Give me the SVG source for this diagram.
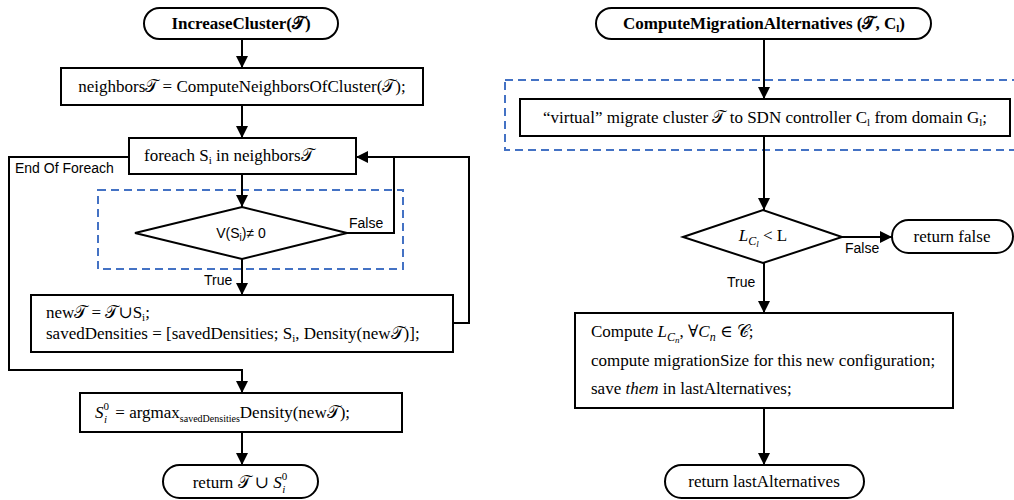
<svg xmlns="http://www.w3.org/2000/svg" width="1014" height="500" viewBox="0 0 1014 500">
<style>
.box{fill:#fff;stroke:#000;stroke-width:2}
.conn{fill:none;stroke:#000;stroke-width:2}
.arr{marker-end:url(#ah)}
.dash{fill:none;stroke:#4472C4;stroke-width:2;stroke-dasharray:8 5}
.t{font-family:"Liberation Serif","DejaVu Serif",serif;font-size:17px;fill:#000}
.b{font-weight:bold}
.s{font-family:"Liberation Sans","DejaVu Sans",sans-serif;font-size:14px;fill:#000}
.i{font-style:italic}
</style>
<defs>
<marker id="ah" markerUnits="userSpaceOnUse" markerWidth="12" markerHeight="12" refX="12" refY="6" orient="auto">
<path d="M0,0 L12,6 L0,12 z" fill="#000"/>
</marker>
</defs>
<rect width="1014" height="500" fill="#fff"/>
<g id="highlights">
<rect class="dash" x="98" y="190" width="305" height="79"/>
<rect class="dash" x="505" y="80" width="520" height="70"/>
</g>
<g id="connectors">
<path class="conn arr" d="M242,39 V68"/>
<path class="conn arr" d="M242,105 V138"/>
<path class="conn arr" d="M242,174 V207"/>
<path class="conn" d="M453,323 H469 V157 H394"/>
<path class="conn arr" d="M347,233 H394 V157 H356"/>
<path class="conn arr" d="M242,259 V295"/>
<path class="conn arr" d="M129,157 H9 V370 H242 V393"/>
<path class="conn arr" d="M242,432 V465"/>
<path class="conn arr" d="M764,39 V99"/>
<path class="conn arr" d="M764,136 V210"/>
<path class="conn arr" d="M842,237 H892"/>
<path class="conn arr" d="M764,263 V313"/>
<path class="conn arr" d="M764,408 V465"/>
<text class="s" x="15" y="173">End Of Foreach</text>
<text class="s" x="349" y="228">False</text>
<text class="s" x="204" y="285">True</text>
<text class="s" x="845" y="253">False</text>
<text class="s" x="727" y="287">True</text>
</g>
<g id="start-left">
<rect class="box" x="144" y="8" width="194" height="31" rx="15.5"/>
<text class="t b" x="241" y="29" text-anchor="middle">IncreaseCluster(𝒯)</text>
</g>
<g id="neighbors">
<rect class="box" x="61" y="68" width="362" height="37"/>
<text class="t" x="242" y="92" text-anchor="middle">neighbors𝒯 = ComputeNeighborsOfCluster(𝒯);</text>
</g>
<g id="foreach">
<rect class="box" x="129" y="138" width="227" height="36"/>
<text class="t" x="144" y="161">foreach S<tspan font-size="11" dy="3">i</tspan><tspan dy="-3"> in neighbors𝒯</tspan></text>
</g>
<g id="cond-left">
<polygon class="box" points="135,233 242,207 347,233 242,259"/>
<text class="s" x="241" y="238" text-anchor="middle" font-size="15">V(S<tspan font-size="10" dy="3">i</tspan><tspan dy="-3">)≠ 0</tspan></text>
</g>
<g id="update">
<rect class="box" x="31" y="295" width="422" height="57"/>
<text class="t" x="46" y="318">new𝒯 = 𝒯∪S<tspan font-size="11" dy="3">i</tspan><tspan dy="-3">;</tspan></text>
<text class="t" x="46" y="339">savedDensities = [savedDensities; S<tspan font-size="11" dy="3">i</tspan><tspan dy="-3">, Density(new𝒯)];</tspan></text>
</g>
<g id="argmax">
<rect class="box" x="80" y="393" width="322" height="39"/>
<text class="t" x="95" y="418"><tspan class="i">S</tspan><tspan font-size="11" dy="-8">0</tspan><tspan dx="-5" font-size="11" class="i" dy="13">i</tspan><tspan dx="4" dy="-5"> = argmax</tspan><tspan font-size="10" dy="4">savedDensities</tspan><tspan dy="-4">Density(new𝒯);</tspan></text>
</g>
<g id="end-left">
<rect class="box" x="163" y="465" width="155" height="33" rx="16.5"/>
<text class="t" x="240" y="488" text-anchor="middle">return 𝒯 ∪ <tspan class="i">S</tspan><tspan font-size="11" dy="-8">0</tspan><tspan dx="-5" font-size="11" class="i" dy="13">i</tspan></text>
</g>
<g id="start-right">
<rect class="box" x="596" y="8" width="335" height="31" rx="15.5"/>
<text class="t b" x="764" y="29" text-anchor="middle">ComputeMigrationAlternatives (𝒯, C<tspan font-size="11" dy="3">l</tspan><tspan dy="-3">)</tspan></text>
</g>
<g id="migrate">
<rect class="box" x="520" y="99" width="490" height="37"/>
<text class="t" x="765" y="123" text-anchor="middle">“virtual” migrate cluster 𝒯 to SDN controller C<tspan font-size="11" dy="3">l</tspan><tspan dy="-3"> from domain G</tspan><tspan font-size="11" dy="3">l</tspan><tspan dy="-3">;</tspan></text>
</g>
<g id="cond-right">
<polygon class="box" points="683,237 763,210 842,237 763,263"/>
<text class="t" x="763" y="241" text-anchor="middle"><tspan class="i">L</tspan><tspan class="i" font-size="12" dy="4">C</tspan><tspan class="i" font-size="9" dy="2">l</tspan><tspan dy="-6"> &lt; L</tspan></text>
</g>
<g id="return-false">
<rect class="box" x="892" y="220" width="121" height="33" rx="16.5"/>
<text class="t" x="952" y="242" text-anchor="middle">return false</text>
</g>
<g id="compute">
<rect class="box" x="575" y="313" width="378" height="95"/>
<text class="t" x="591" y="337">Compute <tspan class="i">L</tspan><tspan class="i" font-size="12" dy="4">C</tspan><tspan class="i" font-size="9" dy="2">n</tspan><tspan dy="-6">, ∀</tspan><tspan class="i">C</tspan><tspan class="i" font-size="12" dy="4">n</tspan><tspan dy="-4"> ∈ 𝒞;</tspan></text>
<text class="t" x="591" y="366">compute migrationSize for this new configuration;</text>
<text class="t" x="591" y="394">save <tspan class="i">them</tspan> in lastAlternatives;</text>
</g>
<g id="end-right">
<rect class="box" x="665" y="465" width="199" height="33" rx="16.5"/>
<text class="t" x="764" y="487" text-anchor="middle">return lastAlternatives</text>
</g>
</svg>
